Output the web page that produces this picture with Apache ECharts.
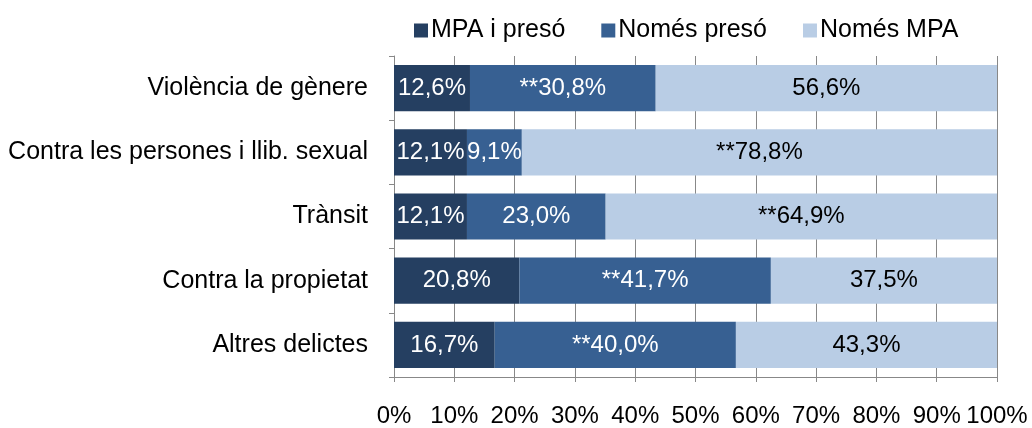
<!DOCTYPE html>
<html>
<head>
<meta charset="utf-8">
<script src="https://cdn.jsdelivr.net/npm/echarts@6/dist/echarts.min.js"></script>
<style>
  html, body { margin: 0; padding: 0; background: #fff; }
  #chart { width: 1032px; height: 428px; }
</style>
</head>
<body>
<div id="chart"></div>
<script>
// Offence categories, top to bottom
const categories = [
  'Violència de gènere',
  'Contra les persones i llib. sexual',
  'Trànsit',
  'Contra la propietat',
  'Altres delictes'
];
const seriesNames = ['MPA i presó', 'Només presó', 'Només MPA'];
// Shares (%) per category
const mpaPreso   = [12.6, 12.1, 12.1, 20.8, 16.7];
const nomesPreso = [30.8,  9.1, 23.0, 41.7, 40.0];
const nomesMpa   = [56.6, 78.8, 64.9, 37.5, 43.3];
// Significance marks (**) per series and category
const sigMpaPreso = [false, false, false, false, false];
const sigPreso    = [true, false, false, true, true];
const sigMpa      = [false, true, true, false, false];
const xTicks = [0, 10, 20, 30, 40, 50, 60, 70, 80, 90, 100];

const colors = ['#253F61', '#376092', '#B9CDE5'];
const labelColors = ['#ffffff', '#ffffff', '#000000'];
const FONT = '"Liberation Sans", Arial, sans-serif';
const FS = 24;

function fmt(v, sig) {
  return (sig ? '**' : '') + v.toFixed(1).replace('.', ',') + '%';
}

function makeSeries(idx, values, sigs) {
  return {
    name: seriesNames[idx],
    type: 'bar',
    stack: 'total',
    barCategoryGap: '28%',
    data: values,
    itemStyle: { color: colors[idx] },
    label: {
      show: true,
      position: 'inside',
      color: labelColors[idx],
      fontSize: FS,
      fontFamily: FONT,
      formatter: p => fmt(p.value, sigs[p.dataIndex])
    },
    emphasis: { disabled: true }
  };
}

const chart = echarts.init(document.getElementById('chart'), null, { renderer: 'canvas' });
chart.setOption({
  animation: false,
  textStyle: { fontFamily: FONT },
  legend: {
    left: 409,
    top: 13,
    itemWidth: 14,
    itemHeight: 14,
    itemGap: 36,
    icon: 'rect',
    textStyle: { fontSize: 25, color: '#000', fontFamily: FONT, padding: [0, 0, 0, -2] },
    data: seriesNames
  },
  grid: { left: 394, right: 35, top: 56, bottom: 50, containLabel: false },
  xAxis: {
    type: 'value',
    min: xTicks[0],
    max: xTicks[xTicks.length - 1],
    interval: 10,
    axisLine: { show: true, lineStyle: { color: '#888', width: 1 } },
    axisTick: { show: true, length: 5, lineStyle: { color: '#888' } },
    splitLine: { show: true, lineStyle: { color: '#888', width: 1 } },
    axisLabel: { fontSize: FS, color: '#000', margin: 27, fontFamily: FONT, formatter: v => v + '%' }
  },
  yAxis: {
    type: 'category',
    inverse: true,
    data: categories,
    axisLine: { show: true, lineStyle: { color: '#888', width: 1 } },
    axisTick: { show: true, length: 5, lineStyle: { color: '#888' } },
    axisLabel: { fontSize: 25, color: '#000', margin: 26, fontFamily: FONT, padding: [4, 0, 0, 0] }
  },
  series: [
    makeSeries(0, mpaPreso, sigMpaPreso),
    makeSeries(1, nomesPreso, sigPreso),
    makeSeries(2, nomesMpa, sigMpa)
  ]
});
</script>
</body>
</html>
